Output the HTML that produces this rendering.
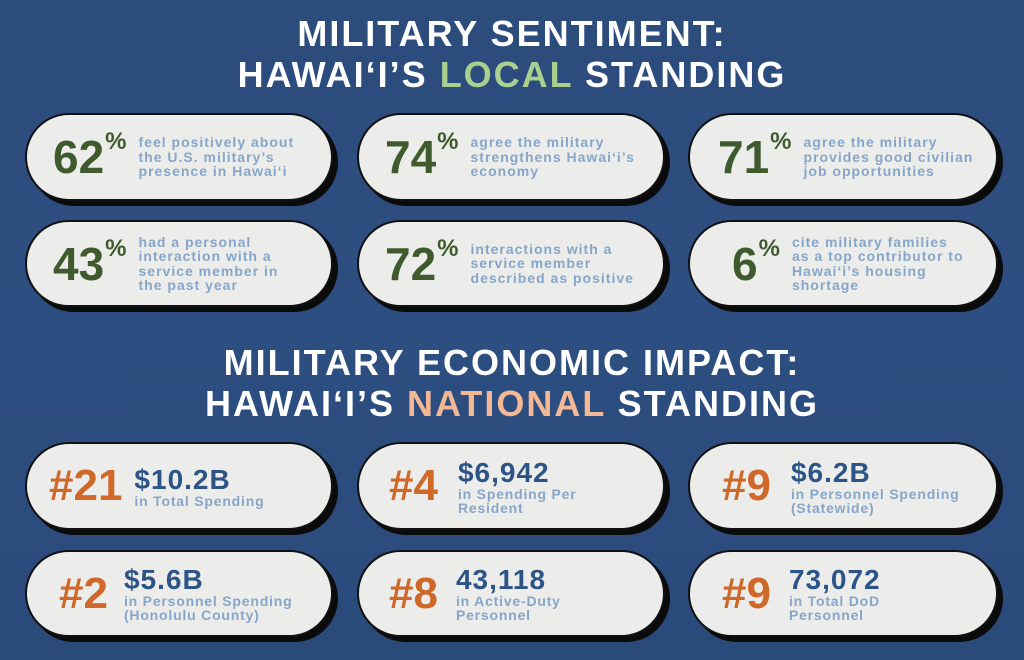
<!DOCTYPE html>
<html><head><meta charset="utf-8"><style>
*{margin:0;padding:0;box-sizing:border-box}
body{width:1024px;height:660px;background:linear-gradient(180deg,#2c4c7c 0%,#2d4e80 50%,#2a4a7a 100%);font-family:"Liberation Sans",sans-serif;position:relative;overflow:hidden}
.t{position:absolute;left:0;width:1024px;text-align:center;color:#fff;font-weight:bold;font-size:36px;letter-spacing:2px;line-height:40px}
.c{position:absolute;background:#ecedeb;border:2px solid #111;border-radius:46px;box-shadow:5px 5px 0 #0b0b0b;display:flex;align-items:center}
.n{font-weight:bold;color:#3f5b2e;font-size:46px;letter-spacing:0;display:flex;align-items:flex-start;line-height:1}
.n sup{font-size:24px;margin-left:1px;margin-top:-4px}
.d{color:#86a6c9;font-weight:bold;font-size:14px;line-height:14.5px;letter-spacing:1px;margin-left:12px}
.r{font-weight:bold;color:#d0682a;font-size:44px;line-height:1}
.v{margin-left:12px}
.v b{display:block;color:#2c5486;font-size:28px;letter-spacing:1px;line-height:29px}
.v span{display:block;color:#86a6c9;font-weight:bold;font-size:14px;line-height:14px;letter-spacing:.8px}
</style></head><body>
<div class="t" style="top:14px">MILITARY SENTIMENT:</div>
<div class="t" style="top:55px">HAWAIʻI’S <span style="color:#a9d08e">LOCAL</span> STANDING</div>
<div class="t" style="top:343px">MILITARY ECONOMIC IMPACT:</div>
<div class="t" style="top:384px">HAWAIʻI’S <span style="color:#f5b895">NATIONAL</span> STANDING</div>

<div class="c" style="left:25px;top:113px;width:308px;height:88px;padding-left:26px"><div class="n">62<sup>%</sup></div><div class="d">feel positively about<br>the U.S. military’s<br>presence in Hawaiʻi</div></div>
<div class="c" style="left:357px;top:113px;width:308px;height:88px;padding-left:26px"><div class="n">74<sup>%</sup></div><div class="d">agree the military<br>strengthens Hawaiʻi’s<br>economy</div></div>
<div class="c" style="left:688px;top:113px;width:310px;height:88px;padding-left:28px"><div class="n">71<sup>%</sup></div><div class="d">agree the military<br>provides good civilian<br>job opportunities</div></div>

<div class="c" style="left:25px;top:220px;width:308px;height:87px;padding-left:26px"><div class="n">43<sup>%</sup></div><div class="d">had a personal<br>interaction with a<br>service member in<br>the past year</div></div>
<div class="c" style="left:357px;top:220px;width:308px;height:87px;padding-left:26px"><div class="n">72<sup>%</sup></div><div class="d">interactions with a<br>service member<br>described as positive</div></div>
<div class="c" style="left:688px;top:220px;width:310px;height:87px;padding-left:42px"><div class="n">6<sup>%</sup></div><div class="d">cite military families<br>as a top contributor to<br>Hawaiʻi’s housing<br>shortage</div></div>

<div class="c" style="left:25px;top:442px;width:308px;height:88px;padding-left:22px"><div class="r">#21</div><div class="v"><b>$10.2B</b><span>in Total Spending</span></div></div>
<div class="c" style="left:357px;top:442px;width:308px;height:88px;padding-left:30px"><div class="r">#4</div><div class="v" style="margin-left:20px"><b>$6,942</b><span>in Spending Per<br>Resident</span></div></div>
<div class="c" style="left:688px;top:442px;width:310px;height:88px;padding-left:32px"><div class="r">#9</div><div class="v" style="margin-left:20px"><b>$6.2B</b><span>in Personnel Spending<br>(Statewide)</span></div></div>

<div class="c" style="left:25px;top:550px;width:308px;height:87px;padding-left:32px"><div class="r">#2</div><div class="v" style="margin-left:16px"><b>$5.6B</b><span>in Personnel Spending<br>(Honolulu County)</span></div></div>
<div class="c" style="left:357px;top:550px;width:308px;height:87px;padding-left:30px"><div class="r">#8</div><div class="v" style="margin-left:18px"><b>43,118</b><span>in Active-Duty<br>Personnel</span></div></div>
<div class="c" style="left:688px;top:550px;width:310px;height:87px;padding-left:32px"><div class="r">#9</div><div class="v" style="margin-left:18px"><b>73,072</b><span>in Total DoD<br>Personnel</span></div></div>
</body></html>
